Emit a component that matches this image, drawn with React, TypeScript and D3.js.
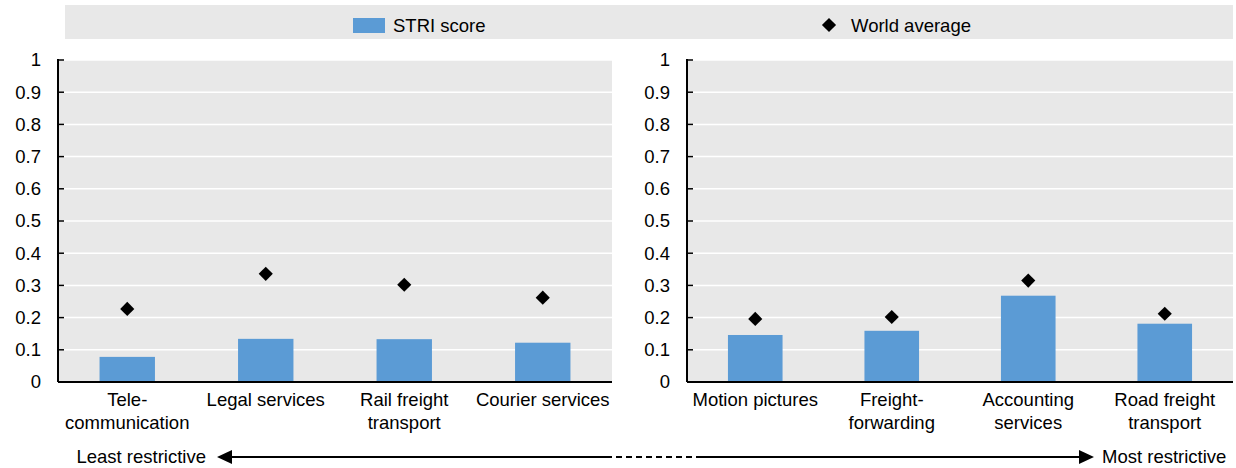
import React from "react";
import * as d3 from "d3";

const leftCategories = ["Tele-\ncommunication", "Legal services", "Rail freight\ntransport", "Courier services"];
const leftStri = [0.078, 0.134, 0.133, 0.122];
const leftWorld = [0.227, 0.336, 0.302, 0.262];

const rightCategories = ["Motion pictures", "Freight-\nforwarding", "Accounting\nservices", "Road freight\ntransport"];
const rightStri = [0.146, 0.159, 0.268, 0.181];
const rightWorld = [0.196, 0.202, 0.315, 0.212];

const yTicks = [0, 0.1, 0.2, 0.3, 0.4, 0.5, 0.6, 0.7, 0.8, 0.9, 1];
const legendLabels = ["STRI score", "World average"];
const arrowLabels = ["Least restrictive", "Most restrictive"];

const W = 1236;
const H = 468;
const FONT = "'Liberation Sans', Arial, sans-serif";
const FS = 18.5;
const BAR = "#5b9bd5";
const BG = "#e8e8e8";

const y = d3.scaleLinear().domain([0, 1]).range([382, 60]);
const diamond = d3.symbol(d3.symbolSquare, 100)();

function Panel({ x0, x1, cats, stri, world }: { x0: number; x1: number; cats: string[]; stri: number[]; world: number[] }) {
  const x = d3.scaleBand<string>().domain(cats).range([x0, x1]).paddingInner(0.6).paddingOuter(0.3);
  return (
    <g>
      <rect x={x0} y={y(1)} width={x1 - x0} height={y(0) - y(1)} fill={BG} />
      {yTicks.slice(1).map((t) => (
        <line key={t} x1={x0} x2={x1} y1={y(t)} y2={y(t)} stroke="#fff" strokeWidth={1.5} />
      ))}
      {cats.map((c, i) => (
        <rect key={c} x={x(c)} y={y(stri[i])} width={x.bandwidth()} height={y(0) - y(stri[i])} fill={BAR} />
      ))}
      {cats.map((c, i) => (
        <path key={c} d={diamond} transform={`translate(${(x(c) as number) + x.bandwidth() / 2},${y(world[i])}) rotate(45)`} fill="#000" />
      ))}
      <line x1={x0} x2={x1} y1={y(0)} y2={y(0)} stroke="#000" strokeWidth={2} />
      <line x1={x0} x2={x0} y1={y(1) - 1} y2={y(0)} stroke="#000" strokeWidth={2} />
      {yTicks.map((t) => (
        <g key={t}>
          <line x1={x0} x2={x0 + 6} y1={y(t)} y2={y(t)} stroke="#000" strokeWidth={1.5} />
          <text x={x0 - 17} y={y(t)} dy="0.35em" textAnchor="end" fontSize={FS} fontFamily={FONT} fill="#000">
            {String(t)}
          </text>
        </g>
      ))}
      {cats.map((c) => {
        const lines = c.split("\n");
        const cx = (x(c) as number) + x.bandwidth() / 2;
        return (
          <text key={c} x={cx} y={406} textAnchor="middle" fontSize={FS} fontFamily={FONT} fill="#000">
            {lines.map((l, j) => (
              <tspan key={j} x={cx} dy={j === 0 ? 0 : 23}>
                {l}
              </tspan>
            ))}
          </text>
        );
      })}
    </g>
  );
}

export default function App() {
  const ay = 457;
  return (
    <svg width={W} height={H} style={{ display: "block", position: "absolute", left: 0, top: 0 }}>
      <rect x={0} y={0} width={W} height={H} fill="#fff" />
      {/* legend */}
      <rect x={65} y={5} width={1168} height={34} fill={BG} />
      <rect x={353} y={18} width={32} height={15} fill={BAR} />
      <text x={393} y={32} fontSize={FS} fontFamily={FONT} fill="#000">{legendLabels[0]}</text>
      <path d={diamond} transform="translate(829,25) rotate(45)" fill="#000" />
      <text x={851} y={32} fontSize={FS} fontFamily={FONT} fill="#000">{legendLabels[1]}</text>

      <Panel x0={58} x1={612} cats={leftCategories} stri={leftStri} world={leftWorld} />
      <Panel x0={687} x1={1233} cats={rightCategories} stri={rightStri} world={rightWorld} />

      {/* restrictiveness arrow */}
      <text x={206} y={ay} dy="0.35em" textAnchor="end" fontSize={FS} fontFamily={FONT} fill="#000">{arrowLabels[0]}</text>
      <path d={`M217,${ay} L232,${ay - 7} L232,${ay + 7} Z`} fill="#000" />
      <line x1={230} x2={606} y1={ay} y2={ay} stroke="#000" strokeWidth={2} />
      <line x1={606} x2={700} y1={ay} y2={ay} stroke="#000" strokeWidth={2} strokeDasharray="6,4" />
      <line x1={700} x2={1080} y1={ay} y2={ay} stroke="#000" strokeWidth={2} />
      <path d={`M1094,${ay} L1079,${ay - 7} L1079,${ay + 7} Z`} fill="#000" />
      <text x={1102} y={ay} dy="0.35em" fontSize={FS} fontFamily={FONT} fill="#000">{arrowLabels[1]}</text>
    </svg>
  );
}
